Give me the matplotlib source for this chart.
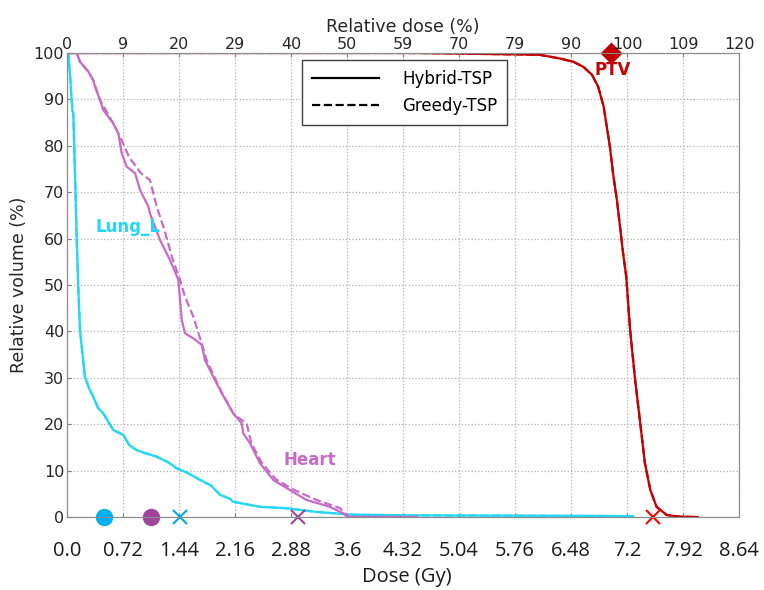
import matplotlib.pyplot as plt

# ==== Data (dose in Gy, volume in %) ====
ptv_dose = [0.0, 4.5, 5.31, 5.76, 6.08, 6.34, 6.51, 6.64, 6.75, 6.83, 6.90, 6.94, 6.98,
            7.02, 7.07, 7.11, 7.15, 7.19, 7.24, 7.30, 7.37, 7.43, 7.50, 7.58, 7.71, 7.88, 8.11]
ptv_vol = [100, 100, 99.8, 99.7, 99.6, 98.8, 98.1, 97.0, 95.3, 92.7, 88.4, 84.1, 79.8,
           74.1, 68.3, 62.6, 56.8, 51.8, 40.3, 30.2, 20.2, 11.6, 5.8, 2.2, 0.43, 0.07, 0.0]

lung_dose = [0.0, 0.017, 0.04, 0.06, 0.07, 0.081, 0.103, 0.125, 0.145, 0.167, 0.23, 0.29, 0.338,
             0.40, 0.467, 0.595, 0.724, 0.80, 0.896, 1.0, 1.153, 1.30, 1.41, 1.55, 1.71, 1.85,
             1.967, 2.10, 2.13, 2.48, 2.82, 3.2, 3.68, 4.5, 5.5, 6.5, 7.28]
lung_vol = [100, 100, 95, 89.9, 87.5, 87, 74, 59.7, 49.6, 40.3, 30.2, 27.5, 25.9,
            23.5, 22.3, 18.75, 17.7, 15.5, 14.4, 13.8, 13.0, 11.8, 10.5, 9.5, 8.0, 6.8,
            4.8, 3.9, 3.3, 2.2, 1.9, 1.1, 0.5, 0.35, 0.3, 0.25, 0.2]

heart_dose = [0.0, 0.125, 0.167, 0.274, 0.338, 0.36, 0.424, 0.467, 0.595, 0.66, 0.703, 0.768,
              0.875, 0.939, 1.046, 1.067, 1.196, 1.324, 1.432, 1.453, 1.475, 1.517, 1.624,
              1.732, 1.774, 1.881, 1.989, 2.138, 2.246, 2.267, 2.353, 2.48, 2.652, 2.867,
              3.082, 3.38, 3.55, 3.6, 4.5]
heart_vol = [100, 100, 98.1, 96, 94.1, 92.7, 89.9, 87.7, 84.8, 82.7, 78.4, 75.5,
             74.1, 70.5, 66.9, 65.4, 59.7, 55.4, 51.1, 46.8, 42.5, 39.6, 38.5,
             37.1, 33.8, 30.2, 26.7, 22.3, 20.2, 18.0, 15.9, 11.6, 8.0, 5.8,
             3.66, 2.2, 0.8, 0.06, 0.0]

heart_g_dose = [0.0, 0.125, 0.167, 0.274, 0.338, 0.424, 0.595, 0.703, 0.80, 0.95, 1.067,
                1.153, 1.25, 1.35, 1.453, 1.517, 1.624, 1.732, 1.796, 1.90, 2.0, 2.15,
                2.31, 2.37, 2.50, 2.68, 2.90, 3.21, 3.51, 3.62, 4.5]
heart_g_vol = [100, 100, 98.1, 96, 94.1, 89.9, 84.8, 81.2, 77.5, 74.1, 72.6,
               66.9, 62.0, 56.0, 51.1, 47.5, 43.2, 37.4, 33.8, 30.0, 26.5, 22.0,
               20.2, 15.9, 11.8, 8.2, 6.0, 3.66, 1.9, 0.0, 0.0]

# reference markers (Gy)
lung_circle, heart_circle = 0.476, 1.08
lung_x, heart_x, ptv_x = 1.453, 2.97, 7.53
ptv_diamond = 6.99

dose_ticks = [0.0, 0.72, 1.44, 2.16, 2.88, 3.6, 4.32, 5.04, 5.76, 6.48, 7.2, 7.92, 8.64]
rel_labels = ['0', '9', '20', '29', '40', '50', '59', '70', '79', '90', '100', '109', '120']

c_ptv = '#C40000'
c_lung = '#22D8F6'
c_heart = '#C66CC6'

fig = plt.figure(figsize=(7.64, 5.90), dpi=100)
ax = fig.add_axes([0.0877, 0.1237, 0.8796, 0.7865])

for d, v, c in [(ptv_dose, ptv_vol, c_ptv), (lung_dose, lung_vol, c_lung)]:
    ax.plot(d, v, color=c, lw=1.6, ls='--')
    ax.plot(d, v, color=c, lw=1.6)
ax.plot(heart_g_dose, heart_g_vol, color=c_heart, lw=1.6, ls='--')
ax.plot(heart_dose, heart_vol, color=c_heart, lw=1.6)

# markers on axes
ax.plot(lung_circle, 0, 'o', color='#00B0F0', ms=11.5, clip_on=False, zorder=5)
ax.plot(heart_circle, 0, 'o', color='#A0449A', ms=11.5, clip_on=False, zorder=5)
ax.plot(lung_x, 0, 'x', color='#00A8EC', ms=10, mew=1.5, clip_on=False, zorder=5)
ax.plot(heart_x, 0, 'x', color='#A0449A', ms=10, mew=1.5, clip_on=False, zorder=5)
ax.plot(ptv_x, 0, 'x', color='#FF0000', ms=10, mew=1.5, clip_on=False, zorder=5)
ax.plot(ptv_diamond, 100, 'D', color='#C00000', ms=10, clip_on=False, zorder=5)

ax.text(7.02, 96.3, 'PTV', color=c_ptv, fontsize=12, fontweight='bold', ha='center', va='center')
ax.text(0.79, 62.5, 'Lung_L', color=c_lung, fontsize=12, fontweight='bold', ha='center', va='center')
ax.text(3.12, 12.3, 'Heart', color=c_heart, fontsize=12, fontweight='bold', ha='center', va='center')

ax.set_xlim(0, 8.64)
ax.set_ylim(0, 100)
ax.set_xticks(dose_ticks)
ax.set_xticklabels(['%g' % t if t != 0 else '0.0' for t in dose_ticks],
                   fontsize=14.5, family='Open Sans', color='#1a1a1a')
ax.set_yticks(range(0, 101, 10))
ax.tick_params(axis='y', labelsize=11.5, labelcolor='#262626', direction='in', length=3, color='#808080', pad=2)
ax.tick_params(axis='x', direction='in', length=3, color='#808080', pad=17)
ax.grid(True, ls=':', color='#b0b0b0', lw=0.9)
for s in ax.spines.values():
    s.set_color('#8c8c8c')
ax.set_ylabel('Relative volume (%)', fontsize=12.5, color='#262626', labelpad=4)

fig.text(0.532, 1 - 582 / 590, 'Dose (Gy)', fontsize=14.5, family='Open Sans',
         ha='center', va='baseline', color='#1a1a1a')

top = ax.twiny()
top.set_xlim(ax.get_xlim())
top.set_xticks(dose_ticks)
top.set_xticklabels(rel_labels)
top.tick_params(axis='x', labelsize=11.5, labelcolor='#262626', direction='in', length=3,
                color='#808080', pad=1)
top.set_xlabel('Relative dose (%)', fontsize=12.5, color='#262626', labelpad=3)
for s in top.spines.values():
    s.set_color('#8c8c8c')

h1, = ax.plot([], [], color='black', lw=1.6, label='Hybrid-TSP')
h2, = ax.plot([], [], color='black', lw=1.6, ls='--', label='Greedy-TSP')
leg = ax.legend(handles=[h1, h2], loc='upper left', bbox_to_anchor=(0.35, 0.985),
                borderaxespad=0, fontsize=12, fancybox=False, framealpha=1, edgecolor='#404040',
                handlelength=4.0, borderpad=0.6, labelspacing=0.55, handletextpad=1.4)
leg.get_frame().set_linewidth(1.0)

plt.savefig('out.png', dpi=100)
